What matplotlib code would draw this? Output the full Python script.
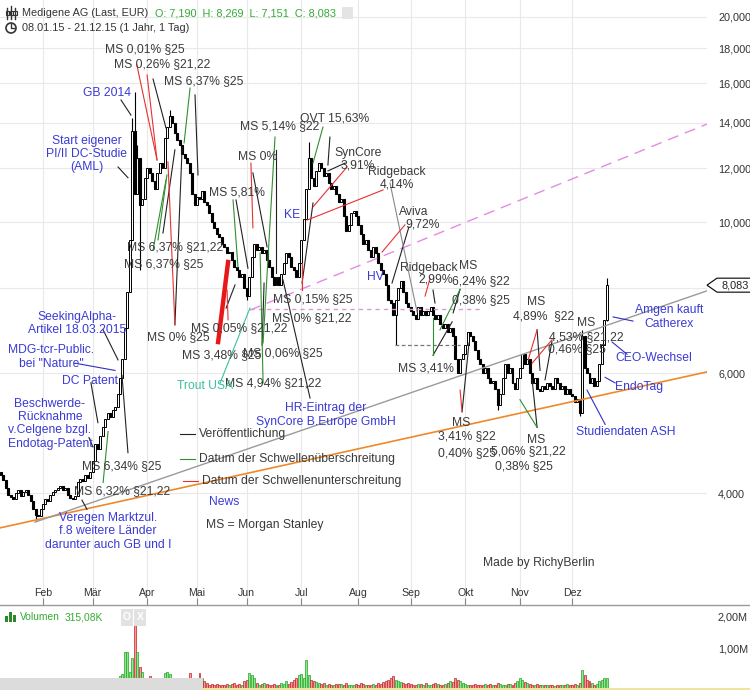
import numpy as np
import pandas as pd
import matplotlib
matplotlib.use("Agg")
import matplotlib.pyplot as plt
from matplotlib import transforms
from matplotlib.lines import Line2D
from matplotlib.patches import Rectangle, Ellipse, Polygon
from matplotlib.ticker import FuncFormatter, NullLocator

plt.rcParams["font.family"] = ["Liberation Sans", "DejaVu Sans"]

W, H = 750, 690

# trading days, Frankfurt holidays left out
holidays = pd.to_datetime(["2015-04-03", "2015-04-06", "2015-05-01"])
days = pd.bdate_range("2015-01-08", "2015-12-21")
days = days[~days.isin(holidays)]

# daily closes (EUR)
closes = [
    4.25, 4.18, 4.08, 3.98, 3.95, 3.92, 4.00, 4.05, 3.96, 4.02,
    4.05, 3.98, 3.90, 3.80, 3.72, 3.70, 3.80, 3.86, 3.92, 3.90,
    3.98, 4.02, 4.05, 4.08, 4.10, 4.04, 4.08, 3.98, 3.94, 3.92,
    3.96, 4.16, 4.20, 4.17, 4.25, 4.22, 4.30, 4.46, 4.72, 4.65,
    4.85, 5.00, 5.15, 5.25, 5.18, 5.30, 5.35, 5.60, 5.90, 6.30,
    7.00, 7.90, 9.40, 13.60, 11.00, 12.40, 10.60, 10.80, 11.60, 12.00,
    11.80, 11.50, 11.20, 11.80, 12.20, 12.00, 13.30, 13.80, 14.30, 14.00,
    13.50, 13.20, 13.00, 12.60, 12.40, 12.20, 11.80, 11.00, 10.60, 10.90,
    10.80, 11.10, 10.70, 10.60, 10.30, 10.00, 9.80, 9.60, 9.50, 9.30,
    9.20, 9.00, 9.05, 8.80, 8.60, 8.50, 8.30, 8.40, 8.00, 7.80,
    8.30, 8.90, 9.30, 9.10, 9.20, 9.00, 9.10, 8.80, 8.60, 8.30,
    8.10, 8.30, 8.10, 8.40, 8.70, 9.00, 8.90, 8.60, 8.50, 8.30,
    8.70, 9.40, 10.10, 11.20, 12.40, 11.60, 11.30, 11.90, 12.20, 12.00,
    11.70, 11.80, 11.40, 11.20, 11.30, 11.00, 10.70, 10.80, 10.20, 9.70,
    9.90, 10.30, 10.40, 10.20, 9.90, 9.60, 9.30, 9.40, 9.10, 8.90,
    9.20, 9.00, 8.70, 8.50, 8.40, 8.10, 7.70, 7.60, 7.30, 7.70,
    8.00, 8.20, 7.90, 7.60, 7.50, 7.40, 7.30, 7.20, 7.50, 7.30,
    7.40, 7.30, 7.40, 7.50, 7.30, 7.20, 7.30, 7.10, 7.00, 7.10,
    6.90, 7.00, 6.80, 6.30, 6.00, 6.30, 6.40, 6.60, 6.90, 6.80,
    6.70, 6.50, 6.30, 6.20, 6.00, 6.10, 5.90, 5.80, 5.85, 5.70,
    5.40, 5.60, 5.90, 6.20, 6.00, 6.10, 5.80, 5.70, 5.90, 6.10,
    6.40, 6.20, 6.30, 6.00, 5.80, 5.90, 5.70, 5.65, 5.75, 5.70,
    5.80, 5.75, 5.70, 5.90, 5.80, 5.70, 5.75, 5.60, 5.70, 5.60,
    5.55, 5.45, 5.50, 5.25, 6.80, 6.10, 6.00, 5.80, 5.90, 5.75,
    5.85, 6.20, 6.60, 7.19, 8.083,
]
first_open = 4.30
# wicks that reach beyond the candle body
wick_high = {53: 14.2, 54: 15.5, 55: 13.0, 68: 14.6, 124: 13.1, 234: 6.95, 244: 8.269}
wick_low = {14: 3.66, 56: 8.5, 99: 7.7, 159: 6.6, 200: 5.3, 233: 5.2, 244: 7.151}

# daily volume, thousands of shares
volumes_k = [
    90, 80, 120, 70, 60, 100, 80, 90, 70, 110,
    100, 80, 120, 150, 140, 90, 80, 100, 90, 70,
    80, 90, 70, 100, 120, 80, 90, 70, 80, 90,
    120, 150, 200, 180, 150, 220, 250, 200, 280, 300,
    250, 220, 260, 200, 180, 220, 250, 300, 350, 420,
    1100, 1080, 500, 900, 1900, 1100, 650, 470, 300, 250,
    350, 200, 180, 150, 200, 250, 450, 470, 420, 300,
    200, 150, 120, 130, 150, 120, 450, 180, 200, 150,
    460, 300, 200, 150, 100, 120, 90, 110, 100, 80,
    100, 130, 90, 110, 150, 100, 120, 90, 200, 250,
    450, 400, 300, 150, 100, 120, 150, 110, 90, 100,
    120, 90, 100, 150, 130, 200, 120, 180, 250, 300,
    380, 420, 300, 850, 400, 250, 200, 180, 150, 120,
    150, 100, 120, 90, 100, 130, 110, 120, 90, 150,
    100, 80, 90, 120, 100, 150, 110, 90, 100, 80,
    120, 90, 150, 130, 180, 200, 250, 300, 350, 250,
    200, 180, 150, 120, 150, 130, 100, 90, 110, 120,
    100, 150, 90, 100, 120, 150, 110, 90, 100, 130,
    150, 200, 180, 300, 250, 200, 150, 120, 100, 90,
    100, 120, 90, 80, 100, 120, 90, 110, 80, 100,
    150, 120, 100, 90, 110, 130, 100, 150, 200, 300,
    250, 180, 150, 120, 100, 90, 110, 80, 100, 90,
    80, 100, 90, 70, 80, 100, 90, 80, 110, 90,
    100, 120, 80, 150, 560, 400, 250, 200, 150, 100,
    120, 200, 250, 300, 315,
]

month_names = ["Jan", "Feb", "Mär", "Apr", "Mai", "Jun", "Jul", "Aug", "Sep", "Okt", "Nov", "Dez"]
price_ticks = [4, 6, 8, 10, 12, 14, 16, 18, 20]
volume_ticks = [1.0, 2.0]

# trend lines: ((day index, price), (day index, price))
support_line = ((-0.3, 3.56), (284.3, 6.03))
channel_line = ((13.8, 3.63), (284.3, 7.93))
resist_line = ((100.3, 7.43), (284.3, 13.93))
level_pink = ((100.3, 7.46), (194.0, 7.46))
level_gray = ((158.7, 6.60), (184.9, 6.60))

# annotation texts: (text, day index, price)
ms_texts = [
    ("MS 0,01% §25", 58.1, 17.95),
    ("MS 0,26% §21,22", 64.9, 17.06),
    ("MS 6,37% §25", 81.8, 16.11),
    ("MS 6,37% §21,22", 70.1, 9.20),
    ("MS 6,37% §25", 65.7, 8.68),
    ("MS 5,81%", 95.1, 11.07),
    ("MS 5,14% §22", 112.4, 13.84),
    ("OVT 15,63%", 134.2, 14.17),
    ("MS 0%", 103.2, 12.46),
    ("SynCore\n3,91%", 143.8, 12.37),
    ("Ridgeback\n4,14%", 159.5, 11.60),
    ("MS 0,15% §25", 125.7, 7.71),
    ("MS 0% §21,22", 125.3, 7.23),
    ("MS 0,05% §21,22", 95.9, 7.00),
    ("MS 3,48% §25", 89.1, 6.38),
    ("MS 0,06% §25", 113.6, 6.42),
    ("MS 4,94% §21,22", 109.6, 5.81),
    ("MS 0% §25", 71.4, 6.78),
    ("Aviva", 166.4, 10.35),
    ("9,72%", 169.6, 9.91),
    ("Ridgeback", 172.4, 8.56),
    ("2,99%", 175.2, 8.23),
    ("MS", 188.1, 8.62),
    ("6,24% §22", 193.3, 8.20),
    ("0,38% §25", 193.3, 7.69),
    ("MS 3,41%", 171.2, 6.09),
    ("MS", 185.3, 5.08),
    ("3,41% §22", 187.7, 4.85),
    ("0,40% §25", 187.7, 4.59),
    ("MS", 215.5, 4.79),
    ("5,06% §21,22", 212.3, 4.61),
    ("0,38% §25", 210.7, 4.38),
    ("MS", 215.5, 7.64),
    ("4,89%  §22", 218.7, 7.28),
    ("MS", 235.6, 7.12),
    ("4,53% §21,22", 235.6, 6.78),
    ("0,46% §25", 232.0, 6.51),
    ("MS 6,34% §25", 48.8, 4.38),
    ("MS 6,32% §21,22", 48.8, 4.03),
]
news_texts = [
    ("GB 2014", 42.8, 15.47),
    ("Start eigener\nPI/II DC-Studie\n(AML)", 34.7, 12.59),
    ("KE", 117.2, 10.25),
    ("HV", 150.7, 8.30),
    ("HR-Eintrag der\nSynCore B.Europe GmbH", 130.9, 5.21),
    ("SeekingAlpha-\nArtikel 18.03.2015", 30.7, 7.10),
    ("MDG-tcr-Public.\nbei \"Nature\"", 20.2, 6.34),
    ("DC Patent", 35.9, 5.85),
    ("Beschwerde-\nRücknahme\nv.Celgene bzgl.\nEndotag-Patent", 19.8, 5.06),
    ("Veregen Marktzul.\nf.8 weitere Länder\ndarunter auch GB und I", 43.2, 3.52),
    ("Amgen kauft\nCatherex", 269.0, 7.26),
    ("CEO-Wechsel", 263.0, 6.32),
    ("EndoTag", 257.0, 5.73),
    ("Studiendaten ASH", 251.7, 4.93),
]
trout_text = ("Trout USA", 82.2, 5.75)

# connectors
pub_lines = [
    ((48.4, 15.11), (52.4, 14.36)),
    ((47.2, 12.05), (51.2, 11.62)),
    ((61.3, 16.22), (66.5, 13.75)),
    ((78.2, 15.37), (79.4, 11.73)),
    ((65.3, 9.64), (70.1, 12.77)),
    ((70.1, 7.07), (73.0, 12.85)),
    ((94.7, 10.78), (99.5, 8.56)),
    ((90.7, 7.48), (94.3, 8.09)),
    ((101.5, 11.81), (107.2, 9.20)),
    ((110.8, 12.77), (110.8, 8.42)),
    ((132.5, 13.33), (131.7, 12.13)),
    ((138.6, 12.21), (131.7, 11.89)),
    ((125.7, 10.67), (121.3, 8.14)),
    ((113.6, 8.23), (124.5, 5.52)),
    ((164.3, 9.84), (157.5, 8.14)),
    ((174.0, 7.95), (174.8, 7.61)),
    ((174.0, 6.38), (181.7, 7.14)),
    ((184.9, 7.97), (182.1, 7.36)),
    ((185.7, 5.27), (188.5, 6.65)),
    ((215.9, 6.95), (217.1, 6.06)),
    ((221.9, 6.69), (219.1, 5.87)),
    ((213.9, 5.87), (215.9, 5.00)),
    ((41.2, 6.95), (47.2, 6.28)),
    ((36.3, 5.81), (39.1, 5.08)),
    ((35.5, 4.83), (37.1, 4.68)),
    ((51.2, 4.59), (48.8, 5.96)),
    ((34.7, 3.79), (32.7, 3.91)),
    ((106.0, 8.14), (105.2, 6.60)),
]
gray_lines = [((156.7, 11.41), (167.6, 7.38))]
over_lines = [
    ((61.3, 9.10), (66.5, 11.53)),
    ((63.3, 9.42), (66.9, 11.73)),
    ((76.2, 15.73), (73.8, 13.07)),
    ((93.5, 10.78), (95.5, 8.59)),
    ((110.4, 13.33), (105.6, 6.65)),
    ((104.4, 9.01), (105.6, 5.81)),
    ((129.7, 13.79), (125.7, 12.21)),
    ((174.0, 7.23), (174.0, 6.38)),
    ((184.9, 7.97), (176.8, 6.95)),
    ((209.0, 5.49), (215.9, 5.00)),
    ((41.2, 4.15), (43.2, 4.93)),
]
under_lines = [
    ((54.8, 17.0), (62.9, 12.34)),
    ((58.9, 16.44), (62.9, 12.34)),
    ((67.3, 12.26), (70.1, 7.07)),
    ((91.5, 7.19), (91.1, 7.95)),
    ((100.7, 12.21), (101.5, 9.81)),
    ((139.4, 12.05), (125.7, 10.53)),
    ((153.9, 11.15), (123.3, 10.07)),
    ((121.3, 8.71), (121.3, 7.95)),
    ((162.7, 9.91), (153.5, 9.04)),
    ((172.8, 8.27), (170.8, 7.79)),
    ((184.9, 5.67), (185.7, 5.27)),
    ((215.9, 6.95), (212.3, 6.28)),
    ((221.9, 6.72), (213.9, 6.21)),
]
thick_under_line = ((87.5, 6.67), (91.5, 8.74))
trout_line = ((88.3, 5.81), (100.3, 7.48))
news_lines = [
    ((29.9, 6.21), (46.0, 6.06)),
    ((246.5, 7.26), (254.5, 7.16)),
    ((246.1, 6.67), (252.1, 6.40)),
    ((243.3, 5.92), (247.3, 5.81)),
    ((236.0, 5.67), (243.3, 5.05)),
]

TXT = "#3a3a3a"
BLUE = "#3b3bd6"
GREEN_TXT = "#33aa33"
FS = 8.7


def fx(x):
    return x / W


def fy(y):
    return 1 - y / H


c = np.array(closes)
o = np.r_[first_open, c[:-1]]
hi = np.maximum(o, c)
lo = np.minimum(o, c)
for k, v in wick_high.items():
    hi[k] = v
for k, v in wick_low.items():
    lo[k] = v
idx = np.arange(len(c))
up = c >= o

fig = plt.figure(figsize=(W / 100, H / 100), dpi=100)
ax = fig.add_axes([0, 85 / H, 707 / W, 605 / H])
axv = fig.add_axes([0, 0, 707 / W, 83 / H], sharex=ax)

ax.set_yscale("log")
ax.set_xlim(-0.31, 284.3)
ax.set_ylim(2.7435, 21.182)
for a in (ax, axv):
    for s in a.spines.values():
        s.set_visible(False)

month_idx = [i for i in range(1, len(days)) if days[i].month != days[i - 1].month]
ax.set_xticks(month_idx)
ax.tick_params(axis="x", direction="in", length=5, color="#888888", labelbottom=False)
ax.set_yticks(price_ticks)
ax.yaxis.set_minor_locator(NullLocator())
ax.yaxis.set_major_formatter(FuncFormatter(lambda v, p: "" if v == 8 else f"{v:.3f}".replace(".", ",")))
ax.yaxis.tick_right()
ax.tick_params(axis="y", length=0, pad=8, labelsize=7.8, labelcolor="#333333")
ax.grid(True, color="#e9e9e9", lw=0.8, zorder=0)
ax.set_axisbelow(True)

mtr = transforms.blended_transform_factory(ax.transData, fig.transFigure)
for i in month_idx:
    ax.text(i, fy(593), month_names[days[i].month - 1], transform=mtr,
            ha="center", va="center", fontsize=7.6, color="#333333")

# candles
ax.vlines(idx, lo, hi, color="black", lw=0.8, zorder=2)
ax.bar(idx[up], (c - o)[up], bottom=o[up], width=0.8, color="white",
       edgecolor="black", lw=0.7, zorder=2)
ax.bar(idx[~up], (o - c)[~up], bottom=c[~up], width=0.8, color="black",
       edgecolor="black", lw=0.8, zorder=2)

# trend lines
def seg(line, **kw):
    (x0, y0), (x1, y1) = line
    ax.plot([x0, x1], [y0, y1], **kw)

seg(support_line, color="#f0882a", lw=1.2, zorder=3)
seg(channel_line, color="#9a9a9a", lw=1.0, zorder=3)
seg(resist_line, color="#e38be3", lw=1.0, dashes=(8, 5), zorder=3)
seg(level_pink, color="#d59bd5", lw=1.0, dashes=(3, 3), zorder=3)
seg(level_gray, color="#777777", lw=0.9, dashes=(3, 2), zorder=3)

for line in pub_lines:
    seg(line, color="#222222", lw=0.8, zorder=4)
for line in gray_lines:
    seg(line, color="#888888", lw=0.8, zorder=4)
for line in over_lines:
    seg(line, color="#2f8f2f", lw=0.8, zorder=4)
for line in under_lines:
    seg(line, color="#e83030", lw=0.8, zorder=4)
seg(thick_under_line, color="#e81818", lw=3.2, zorder=4)
seg(trout_line, color="#3dbf9f", lw=0.8, zorder=4)
for line in news_lines:
    seg(line, color="#3030c0", lw=0.8, zorder=4)

for t, xi, p in ms_texts:
    ax.text(xi, p, t, ha="center", va="center", fontsize=FS, color=TXT, zorder=5, linespacing=1.1)
for t, xi, p in news_texts:
    ax.text(xi, p, t, ha="center", va="center", fontsize=FS, color=BLUE, zorder=5, linespacing=1.15)
ax.text(trout_text[1], trout_text[2], trout_text[0], ha="center", va="center",
        fontsize=FS, color="#3dbf9f", zorder=5)

# legend written inside the chart
ax.plot([72.2, 78.2], [4.89, 4.89], color="#222222", lw=0.8)
ax.plot([72.2, 78.2], [4.50, 4.50], color="#2f8f2f", lw=0.8)
ax.plot([73.4, 79.4], [4.17, 4.17], color="#e83030", lw=0.8)
ax.text(79.6, 4.89, "Veröffentlichung", ha="left", va="center", fontsize=FS, color=TXT)
ax.text(79.6, 4.50, "Datum der Schwellenüberschreitung", ha="left", va="center", fontsize=FS, color=TXT)
ax.text(81.2, 4.17, "Datum der Schwellenunterschreitung", ha="left", va="center", fontsize=FS, color=TXT)
ax.text(89.9, 3.88, "News", ha="center", va="center", fontsize=FS, color=BLUE)
ax.text(82.6, 3.60, "MS = Morgan Stanley", ha="left", va="center", fontsize=FS, color=TXT)
ax.text(194.1, 3.16, "Made by RichyBerlin", ha="left", va="center", fontsize=FS, color=TXT)

# volume panel
vol = np.array(volumes_k) / 1000.0
axv.set_ylim(-2 / 33, 81 / 33)
axv.bar(idx, vol, width=0.8, color=np.where(up, "#8fe88f", "#f49a9a"),
        edgecolor=np.where(up, "#22a022", "#c02020"), linewidth=0.5, zorder=2)
axv.tick_params(axis="both", length=0, labelleft=False, labelbottom=False, labelright=False)
vtr = transforms.blended_transform_factory(fig.transFigure, axv.transData)
for v in volume_ticks:
    fig.text(fx(718), v, f"{v:.2f}".replace(".", ",") + "M", transform=vtr,
             ha="left", va="bottom", fontsize=7.8, color="#333333")

# separator and frame details
fig.add_artist(Line2D([0, 1], [fy(605), fy(605)], color="#999999", lw=1.0))
fig.add_artist(Line2D([fx(203), 1], [fy(688.5), fy(688.5)], color="#efe3a0", lw=1.5))
fig.add_artist(Rectangle((0, 0), fx(203), 12 / H, color="#dcdcdc", lw=0))

# last price marker
yd = ax.transData.transform((0, closes[-1]))[1] / fig.bbox.height
hh = 7 / H
fig.add_artist(Polygon([(fx(707), yd), (fx(717), yd + hh), (fx(752), yd + hh),
                        (fx(752), yd - hh), (fx(717), yd - hh)], closed=True,
                       fc="white", ec="black", lw=0.8))
fig.text(fx(722), yd, f"{closes[-1]:.3f}".replace(".", ","), ha="left", va="center",
         fontsize=7.8, color="#222222")

# header
fig.text(fx(22), fy(13), "Medigene AG (Last, EUR)", ha="left", va="center", fontsize=7.8, color="#333333")
fig.text(fx(155), fy(13), "O: 7,190  H: 8,269  L: 7,151  C: 8,083", ha="left", va="center",
         fontsize=7.8, color=GREEN_TXT)
fig.text(fx(22), fy(28), "08.01.15 - 21.12.15 (1 Jahr, 1 Tag)", ha="left", va="center",
         fontsize=7.8, color="#333333")
fig.add_artist(Rectangle((fx(342), fy(19)), 11 / W, 12 / H, color="#e4e4e4", lw=0))
for xx, y0, y1 in [(7, 8, 19), (11, 6, 19), (15, 8, 19)]:
    fig.add_artist(Line2D([fx(xx), fx(xx)], [fy(y1), fy(y0)], color="#333333", lw=1.0))
    fig.add_artist(Rectangle((fx(xx - 1.5), fy(15)), 3 / W, 4 / H, fc="white", ec="#333333", lw=0.8))
fig.add_artist(Ellipse((fx(11), fy(28)), 10 / W, 10 / H, fc="none", ec="#333333", lw=1.2))
fig.add_artist(Line2D([fx(11), fx(11), fx(14)], [fy(24), fy(28), fy(28)], color="#333333", lw=1.0))

# volume header
for xx, hgt in [(6, 6), (10, 10), (14, 7)]:
    fig.add_artist(Rectangle((fx(xx - 1.5), fy(622)), 3.5 / W, hgt / H, color="#2a8a2a", lw=0))
fig.text(fx(20), fy(617), "Volumen", ha="left", va="center", fontsize=7.4, color=GREEN_TXT)
fig.text(fx(65), fy(617), "315,08K", ha="left", va="center", fontsize=7.4, color=GREEN_TXT)
for xx, s in [(121, "O"), (134, "X")]:
    fig.add_artist(Rectangle((fx(xx), fy(626)), 12 / W, 17 / H, color="#e2e2e2", lw=0))
    fig.text(fx(xx + 6), fy(617.5), s, ha="center", va="center", fontsize=7.4, color="white",
             fontweight="bold")

fig.savefig("out.png", dpi=100)
